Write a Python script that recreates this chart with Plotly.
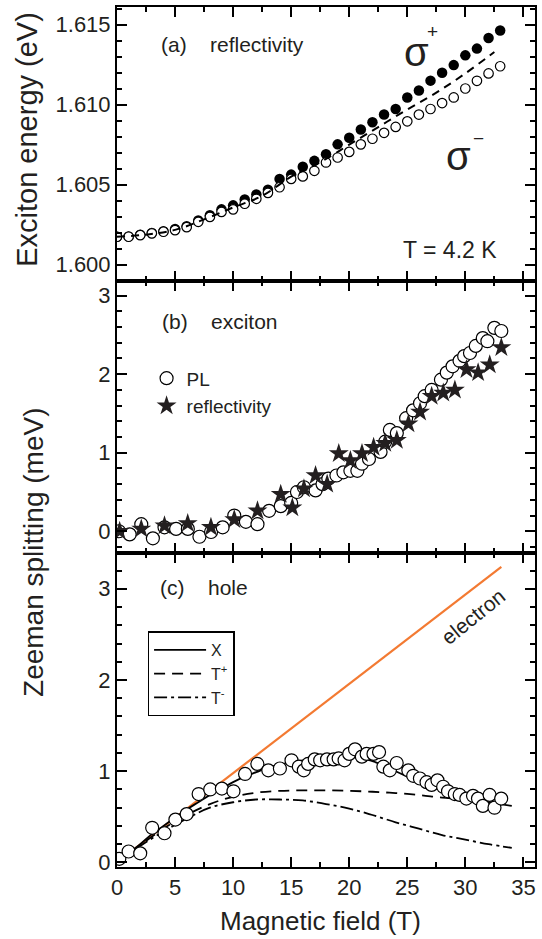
import plotly.graph_objects as go

# ---------------- data ----------------
# panel (a): exciton energy vs field (reflectivity)
B_a = list(range(0, 34))
E_sigma_plus = [1.60175, 1.60177, 1.60188, 1.60198, 1.60210, 1.60223, 1.60241, 1.60276, 1.60309, 1.60346,
                1.60371, 1.60408, 1.60439, 1.60468, 1.60536, 1.60563, 1.60612, 1.60649, 1.60690, 1.60752,
                1.60793, 1.60845, 1.60890, 1.60938, 1.60973, 1.61045, 1.61088, 1.61150, 1.61199, 1.61247,
                1.61308, 1.61350, 1.61416, 1.61463]
E_sigma_minus = [1.60175, 1.60175, 1.60185, 1.60196, 1.60206, 1.60216, 1.60235, 1.60268, 1.60299, 1.60330,
                 1.60346, 1.60381, 1.60412, 1.60449, 1.60484, 1.60536, 1.60552, 1.60587, 1.60639, 1.60670,
                 1.60705, 1.60752, 1.60787, 1.60824, 1.60861, 1.60896, 1.60938, 1.60973, 1.61010, 1.61045,
                 1.61101, 1.61149, 1.61195, 1.61240]
B_mean = [0, 2.5, 5, 7.5, 10, 12.5, 15, 17.5, 20, 22.5, 25, 27.5, 30, 32.5]
E_mean = [1.60175, 1.60188, 1.60218, 1.60283, 1.60358, 1.60430, 1.60550, 1.60640, 1.60750, 1.60860,
          1.60970, 1.61075, 1.61195, 1.61329]

# panel (b): exciton Zeeman splitting
B_pl = [0.17, 1.09, 2.09, 3.09, 4.09, 5.09, 6.1, 7.1, 8.1, 9.1, 10.1, 11.1, 12.1, 13.1, 14.1, 15.0, 15.5,
        16.1, 17.1, 17.7, 18.2, 18.9, 19.5, 20.1, 20.7, 21.1, 21.7, 22.7, 23.1, 23.5, 24.1, 24.9, 25.5,
        26.1, 26.5, 27.1, 27.9, 28.4, 28.9, 29.5, 29.9, 30.4, 30.9, 31.5, 31.9, 32.5, 33.1]
Z_pl = [0.0, -0.04, 0.09, -0.09, 0.05, 0.03, 0.03, -0.07, -0.01, 0.05, 0.20, 0.12, 0.09, 0.26, 0.32, 0.36,
        0.50, 0.56, 0.52, 0.60, 0.67, 0.71, 0.75, 0.77, 0.77, 0.86, 0.92, 1.01, 1.14, 1.29, 1.25, 1.44, 1.54,
        1.63, 1.72, 1.80, 1.93, 2.02, 2.10, 2.17, 2.23, 2.27, 2.36, 2.46, 2.42, 2.59, 2.55]
B_refl = [0.23, 2.09, 4.09, 6.09, 8.09, 10.1, 12.1, 14.1, 15.1, 16.1, 17.1, 18.1, 19.1, 20.1, 21.1, 22.1,
          23.1, 24.1, 25.1, 26.1, 27.1, 28.1, 29.1, 30.1, 31.1, 32.1, 33.1]
Z_refl = [0.0, 0.03, 0.07, 0.10, 0.05, 0.15, 0.26, 0.47, 0.30, 0.54, 0.71, 0.60, 0.99, 0.90, 0.99, 1.07,
          1.12, 1.16, 1.37, 1.52, 1.72, 1.76, 1.80, 2.06, 2.02, 2.12, 2.34]

# panel (c): hole Zeeman splitting
B_hole = [0.2, 1.0, 2.0, 3.03, 4.09, 5.03, 6.0, 7.03, 8.03, 9.03, 10.03, 11.03, 12.09, 13.03, 14.03, 15.03,
          15.66, 16.09, 16.46, 17.03, 17.5, 18.09, 18.66, 19.09, 19.6, 20.0, 20.5, 21.09, 21.5, 22.09, 22.57,
          22.94, 23.5, 24.09, 25.09, 25.51, 26.09, 26.66, 27.09, 27.6, 28.09, 28.51, 29.09, 29.51, 30.09,
          30.66, 31.09, 31.51, 32.09, 32.51, 33.09]
Z_hole = [0.04, 0.12, 0.10, 0.38, 0.32, 0.47, 0.53, 0.75, 0.80, 0.81, 0.78, 0.97, 1.08, 1.01, 1.03, 1.12,
          1.05, 1.01, 1.08, 1.13, 1.12, 1.13, 1.13, 1.14, 1.12, 1.19, 1.24, 1.16, 1.19, 1.19, 1.21,
          1.05, 1.01, 1.09, 1.01, 0.95, 0.92, 0.88, 0.85, 0.90, 0.83, 0.78, 0.75, 0.74, 0.70,
          0.73, 0.70, 0.62, 0.74, 0.60, 0.70]
B_el = [0, 33.1]
Z_el = [0, 3.24]
B_X = list(range(0, 35))
Z_X = [0.0, 0.10, 0.20, 0.31, 0.40, 0.49, 0.58, 0.66, 0.74, 0.81, 0.88, 0.94, 0.99, 1.04, 1.07, 1.10, 1.12,
       1.14, 1.15, 1.16, 1.16, 1.14, 1.11, 1.06, 1.00, 0.94, 0.89, 0.84, 0.80, 0.76, 0.72, 0.69, 0.66,
       0.64, 0.62]
B_Tp = [0, 2, 4, 6, 8, 10, 12, 14, 16, 18, 20, 22, 24, 26, 28, 30]
Z_Tp = [0.0, 0.19, 0.37, 0.52, 0.64, 0.72, 0.765, 0.785, 0.79, 0.79, 0.785, 0.775, 0.76, 0.74, 0.71, 0.69]
B_Tm = [0, 2, 4, 6, 8, 10, 12, 14, 16, 18, 20, 22, 24, 26, 28, 30, 32, 34]
Z_Tm = [0.0, 0.18, 0.34, 0.48, 0.60, 0.66, 0.69, 0.69, 0.68, 0.64, 0.59, 0.52, 0.44, 0.37, 0.30, 0.25,
        0.20, 0.16]

# ---------------- geometry helpers ----------------
W, H = 542, 939
L, R, T, Bm = 117.3, 537.0, 5.0, 866.7


def px(x):
    return (x - L) / (R - L)


def py(y):
    return (Bm - y) / (Bm - T)


FONT = "Liberation Sans, Arial, Helvetica, sans-serif"
INK = "#231f20"

fig = go.Figure()

# panel (a)
fig.add_trace(go.Scatter(x=B_a, y=E_sigma_plus, mode="markers", xaxis="x3", yaxis="y3", showlegend=False,
                         marker=dict(symbol="circle", size=10.5, color="black", line=dict(width=0))))
fig.add_trace(go.Scatter(x=B_a, y=E_sigma_minus, mode="markers", xaxis="x3", yaxis="y3", showlegend=False,
                         marker=dict(symbol="circle", size=9.5, color="white", line=dict(width=1.2, color="black"))))
fig.add_trace(go.Scatter(x=B_mean, y=E_mean, mode="lines", xaxis="x3", yaxis="y3", showlegend=False,
                         line=dict(color="black", width=2, dash="8px,6px", shape="spline")))

# panel (b)
fig.add_trace(go.Scatter(x=B_pl, y=Z_pl, mode="markers", xaxis="x2", yaxis="y2", name="PL", legend="legend",
                         marker=dict(symbol="circle", size=13, color="white", line=dict(width=1.2, color="black"))))
fig.add_trace(go.Scatter(x=B_refl, y=Z_refl, mode="markers", xaxis="x2", yaxis="y2", name="reflectivity",
                         legend="legend",
                         marker=dict(symbol="star", size=15, color="#231f20", line=dict(width=0))))

# panel (c)
fig.add_trace(go.Scatter(x=B_el, y=Z_el, mode="lines", xaxis="x", yaxis="y", showlegend=False,
                         line=dict(color="#f37a32", width=2.2)))
fig.add_trace(go.Scatter(x=B_Tp, y=Z_Tp, mode="lines", xaxis="x", yaxis="y", name="T<sup>+</sup>",
                         legend="legend2", legendrank=2,
                         line=dict(color="black", width=1.8, dash="11px,7px", shape="spline")))
fig.add_trace(go.Scatter(x=B_Tm, y=Z_Tm, mode="lines", xaxis="x", yaxis="y", name="T<sup>-</sup>",
                         legend="legend2", legendrank=3,
                         line=dict(color="black", width=1.8, dash="13px,4px,3px,4px", shape="spline")))
fig.add_trace(go.Scatter(x=B_X, y=Z_X, mode="lines", xaxis="x", yaxis="y", name="X", legend="legend2",
                         legendrank=1, line=dict(color="black", width=1.8, shape="spline")))
fig.add_trace(go.Scatter(x=B_hole, y=Z_hole, mode="markers", xaxis="x", yaxis="y", showlegend=False,
                         marker=dict(symbol="circle", size=13, color="white", line=dict(width=1.2, color="black"))))

# ---------------- axes ----------------
dom_c = [0, py(552.3)]
dom_b = [py(552.3), py(279.3)]
dom_a = [py(279.3), 1]

minor_y = dict(ticks="inside", ticklen=5, tickwidth=1.5, tickcolor="black")
common = dict(showgrid=False, zeroline=False, showline=True, linewidth=2, linecolor="black", mirror="ticks",
              ticks="inside", ticklen=10, tickwidth=1.5, tickcolor="black",
              tickfont=dict(family=FONT, size=22, color=INK))
xcommon = dict(common, range=[0, 36], dtick=5, tick0=0,
               minor=dict(dtick=2.5, ticks="inside", ticklen=5, tickwidth=1.5, tickcolor="black"))

fig.update_layout(
    width=W, height=H,
    margin=dict(l=L, r=W - R, t=T, b=H - Bm, pad=0),
    paper_bgcolor="white", plot_bgcolor="white",
    font=dict(family=FONT, color=INK),
    xaxis=dict(xcommon, anchor="y", domain=[0, 1], ticklabelstandoff=0),
    xaxis2=dict(xcommon, anchor="y2", matches="x", showticklabels=False),
    xaxis3=dict(xcommon, anchor="y3", matches="x", showticklabels=False),
    yaxis=dict(common, anchor="x", domain=dom_c, range=[-0.05, 3.39], dtick=1, tick0=0,
               minor=dict(minor_y, dtick=0.2)),
    yaxis2=dict(common, anchor="x2", domain=dom_b, range=[-0.28, 3.19], dtick=1, tick0=0,
                minor=dict(minor_y, dtick=0.2)),
    yaxis3=dict(common, anchor="x3", domain=dom_a, range=[1.599, 1.6161], dtick=0.005, tick0=1.6,
                tickformat=".3f", minor=dict(minor_y, dtick=0.001)),
    legend=dict(x=px(147), y=py(358), xanchor="left", yanchor="top", bgcolor="rgba(0,0,0,0)",
                borderwidth=0, font=dict(family=FONT, size=19, color=INK), tracegroupgap=0,
                itemwidth=30),
    legend2=dict(x=px(148), y=py(630.7), xanchor="left", yanchor="top", bgcolor="white",
                 bordercolor="black", borderwidth=1.5, font=dict(family=FONT, size=16, color=INK),
                 itemwidth=52),
)


def ann(text, x, y, size=21, xanchor="center", yanchor="middle", angle=0):
    fig.add_annotation(text=text, x=px(x), y=py(y), xref="paper", yref="paper", showarrow=False,
                       xanchor=xanchor, yanchor=yanchor, textangle=angle,
                       font=dict(family=FONT, size=size, color=INK))


ann("(a)", 159, 43, xanchor="left")
ann("reflectivity", 209, 43, xanchor="left")
ann("σ", 418, 50, size=40)
ann("+", 434, 30, size=19)
ann("σ", 460, 154, size=40)
ann("−", 480, 137, size=19)
ann("T = 4.2 K", 452, 248, size=23)
ann("(b)", 160, 320, xanchor="left")
ann("exciton", 210, 320, xanchor="left")
ann("(c)", 158, 587, xanchor="left")
ann("hole", 207, 587, xanchor="left")
ann("electron", 475, 616, size=21, angle=-39)
ann("Exciton energy (eV)", 27, 138, size=29, angle=-90)
ann("Zeeman splitting (meV)", 34, 552, size=28, angle=-90)
ann("Magnetic field (T)", 322, 921, size=26)

fig.write_html("out.html")
